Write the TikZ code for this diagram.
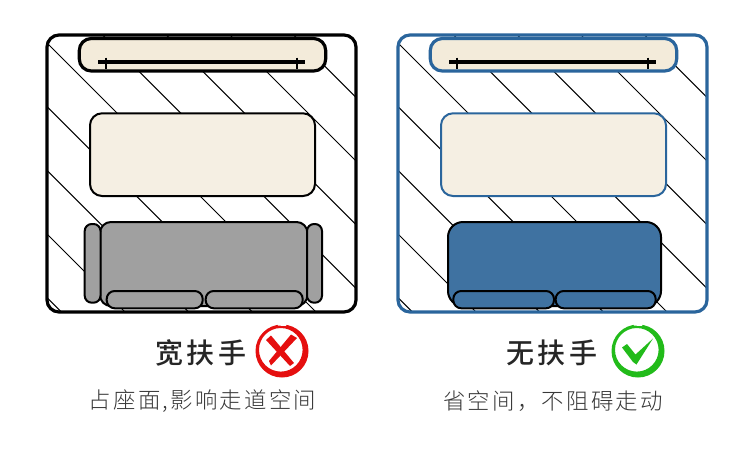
\documentclass[tikz,border=0pt]{standalone}
\usepackage{fontspec}
\newfontfamily\titlefont[LetterSpace=12]{Noto Sans CJK SC Medium}
\newfontfamily\subfont[LetterSpace=10]{Noto Sans CJK SC Light}
\definecolor{framebl}{HTML}{2A659C}
\definecolor{sofabl}{HTML}{3F72A1}
\definecolor{sofagr}{HTML}{A0A0A0}
\definecolor{barfill}{HTML}{F3EBDA}
\definecolor{tabfill}{HTML}{F5EFE3}
\definecolor{xred}{HTML}{E50F0F}
\definecolor{okgr}{HTML}{22BB1A}
\tikzset{
 x=1pt,y=-1pt,
 hatch/.style={line width=1pt,black},
 room/.style={line width=3.2pt,rounded corners=12pt},
 barbox/.style={line width=3.2pt,rounded corners=12pt,fill=barfill},
 tabbox/.style={line width=2pt,rounded corners=12pt,fill=tabfill},
 part/.style={line width=2pt,draw=black},
 rail/.style={line width=4pt,black},
 tick/.style={line width=2.2pt,black},
 titletext/.style={font=\titlefont\fontsize{28}{28}\selectfont,text=black!85,inner sep=0pt},
 subtext/.style={font=\subfont\fontsize{22.4}{22.4}\selectfont,text=black!78,inner sep=0pt},
}
\newcommand{\roomhatch}[1]{%
 \begin{scope}
  \clip[rounded corners=12pt] (47+#1,35) rectangle (356+#1,312);
  \foreach \k in {-4,...,5}{
   \pgfmathsetmacro{\cc}{4+63.67*\k}
   \draw[hatch] ({#1+\cc+30},30) -- ({#1+\cc+320},320);
  }
 \end{scope}}
\newcommand{\barrail}[2]{%
 \draw[rail] (98+#1,62.3) -- (305+#1,62.3);
 \draw[tick] (106+#1,57.5) -- (106+#1,68.5);
 \draw[tick] (297+#1,57.5) -- (297+#1,68.5);}
\begin{document}
\begin{tikzpicture}
\useasboundingbox (0,0) rectangle (750,464);
\fill[white] (0,0) rectangle (750,464);
% left
\roomhatch{0}
\draw[room,draw=black] (47,35) rectangle (356,312);
\draw[barbox,draw=black] (79.3,38.5) rectangle (325.7,71);
\barrail{0}{0}
\draw[tabbox,draw=black] (90,113.3) rectangle (315,196);
\draw[part,fill=sofagr,rounded corners=11pt] (100,222) rectangle (307.5,306);
\draw[part,fill=sofagr,rounded corners=7pt] (84.7,224) rectangle (100.5,302.7);
\draw[part,fill=sofagr,rounded corners=7pt] (307,224) rectangle (322,302.7);
\draw[part,fill=sofagr,rounded corners=8pt] (106.7,291) rectangle (202.7,308.3);
\draw[part,fill=sofagr,rounded corners=8pt] (205.7,291) rectangle (302.7,308.3);
% right
\roomhatch{351}
\draw[room,draw=framebl] (398,35) rectangle (707,312);
\draw[barbox,draw=framebl] (430.3,38.5) rectangle (676.7,71);
\barrail{351}{0}
\draw[tabbox,draw=framebl] (441,113.3) rectangle (666,196);
\draw[part,fill=sofabl,rounded corners=15pt] (448,222) rectangle (661,306);
\draw[part,fill=sofabl,rounded corners=8pt] (453.3,291) rectangle (554,308.3);
\draw[part,fill=sofabl,rounded corners=8pt] (555.7,291) rectangle (655.7,308.3);
% text
\node[titletext] (t1) at (201,353) {宽扶手};
\node[titletext] (t2) at (552,353) {无扶手};
\node[subtext] (s1) at (202.5,401) {占座面,影响走道空间};
\node[subtext] (s2) at (553,401) {省空间，不阻碍走动};
% icons: brushed rings, each ring is an outer disc minus an off-centre inner disc
\fill[xred,even odd rule] (282,351) circle (26.5) (280.8,349.8) circle (21.8);
\fill[white] (277,323) -- (287,323) -- (286,326) -- (278,325.6) -- cycle;
\fill[xred] (266,340) -- (271,335.5) -- (294,363) -- (290,366) -- cycle;
\fill[xred] (297,338) -- (291,334.5) -- (269,361) -- (271,365.5) -- cycle;
\fill[okgr,even odd rule] (638,351) circle (26.5) (636.8,349.8) circle (21.8);
\fill[white] (633,323) -- (643,323) -- (642,326) -- (634,325.6) -- cycle;
\fill[okgr] (622,347.5) -- (627,344) -- (635.5,354.5) -- (653,338.5) -- (636.5,364.5) -- (633,362) -- cycle;
\end{tikzpicture}
\end{document}
